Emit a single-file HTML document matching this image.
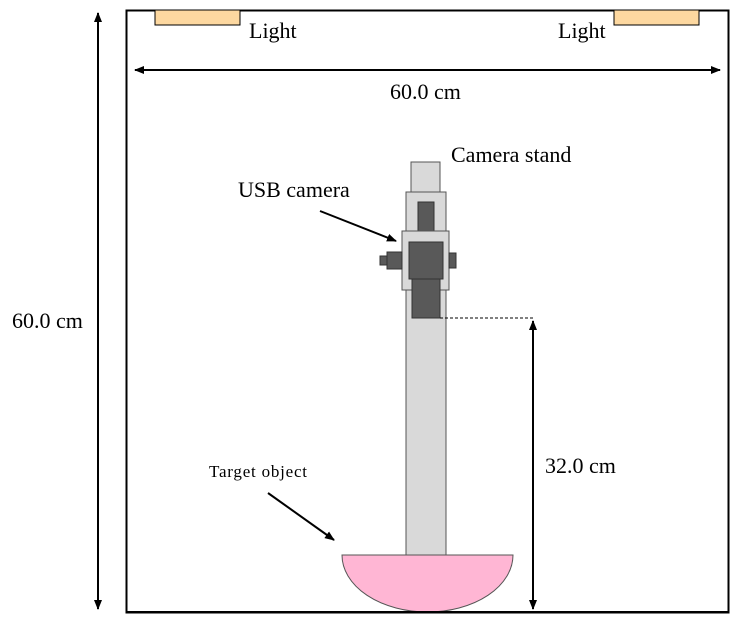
<html><body style="margin:0;background:#fff">
<svg width="733" height="623" xmlns="http://www.w3.org/2000/svg" style="font-family:'Liberation Serif',serif">
<defs><marker id="a" markerWidth="10" markerHeight="8" refX="9" refY="4" orient="auto-start-reverse" markerUnits="userSpaceOnUse"><path d="M0,0 L10,4 L0,8z" fill="#000"/></marker></defs>
<rect x="126.5" y="10.5" width="602" height="602" fill="none" stroke="#000" stroke-width="2"/>
<rect x="155" y="10" width="85" height="15" fill="#fdd8a0" stroke="#000"/>
<rect x="614" y="10" width="85" height="15" fill="#fdd8a0" stroke="#000"/>
<text x="249" y="38" font-size="22">Light</text>
<text x="558" y="38" font-size="22">Light</text>
<line x1="135" y1="70" x2="720" y2="70" stroke="#000" stroke-width="2" marker-start="url(#a)" marker-end="url(#a)"/>
<text x="390" y="99" font-size="22">60.0 cm</text>
<line x1="98" y1="13" x2="98" y2="609" stroke="#000" stroke-width="2" marker-start="url(#a)" marker-end="url(#a)"/>
<text x="12" y="328" font-size="22">60.0 cm</text>
<rect x="411" y="162" width="29" height="30" fill="#d9d9d9" stroke="#555"/>
<rect x="406" y="192" width="40" height="363" fill="#d9d9d9" stroke="#555"/>
<rect x="418" y="202" width="16" height="40" fill="#595959" stroke="#333"/>
<rect x="402" y="231" width="47" height="59" fill="#d9d9d9" stroke="#555"/>
<rect x="412" y="279" width="28" height="39" fill="#595959" stroke="#333"/>
<rect x="409" y="242" width="34" height="37" fill="#595959" stroke="#333"/>
<rect x="387" y="252" width="15" height="17" fill="#595959" stroke="#333"/>
<rect x="380" y="256" width="7" height="9" fill="#595959" stroke="#333"/>
<rect x="449" y="253" width="7" height="15" fill="#595959" stroke="#333"/>
<line x1="440" y1="318" x2="533" y2="318" stroke="#000" stroke-dasharray="3,2"/>
<line x1="533" y1="321" x2="533" y2="609" stroke="#000" stroke-width="2" marker-start="url(#a)" marker-end="url(#a)"/>
<text x="545" y="473" font-size="22">32.0 cm</text>
<text x="451" y="162" font-size="22">Camera stand</text>
<text x="238" y="197" font-size="22">USB camera</text>
<line x1="320" y1="211" x2="396" y2="241" stroke="#000" stroke-width="2" marker-end="url(#a)"/>
<text x="209" y="477" font-size="17" textLength="98">Target object</text>
<line x1="268" y1="493" x2="334" y2="540" stroke="#000" stroke-width="2" marker-end="url(#a)"/>
<path d="M342,555 L513,555 A85.5,57 0 0 1 427.5,612 A85.5,57 0 0 1 342,555z" fill="#ffb6d4" stroke="#555"/>
<line x1="126" y1="612" x2="729" y2="612" stroke="#000" stroke-width="2"/>
</svg>
</body></html>
